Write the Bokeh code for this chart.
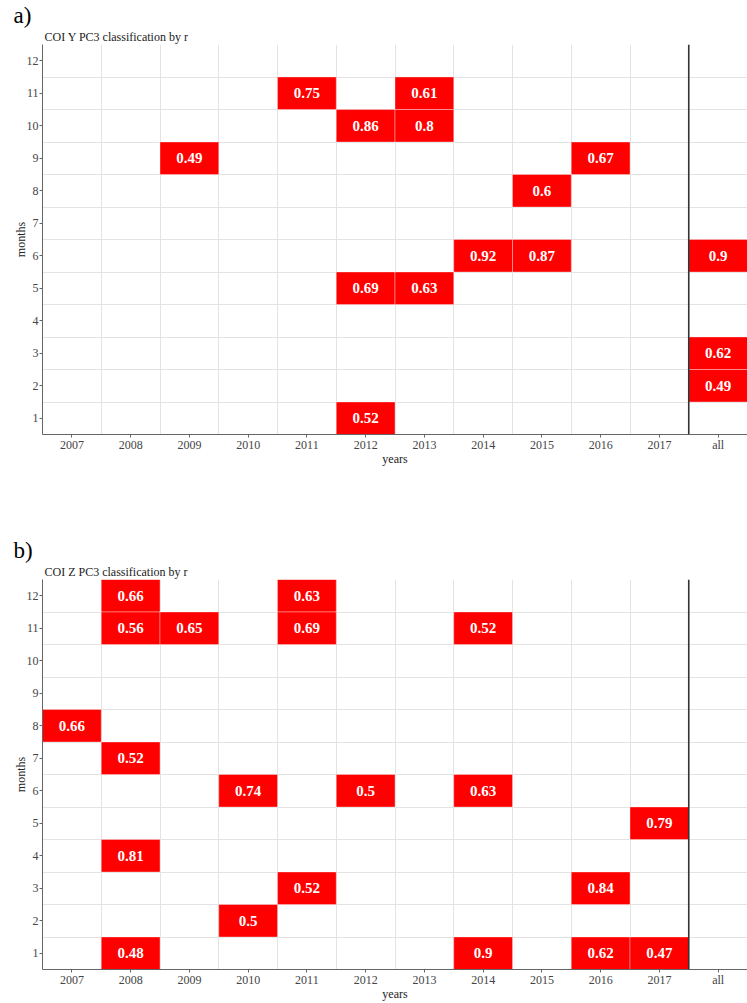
from bokeh.plotting import figure
from bokeh.models import FixedTicker, Title, Span, ColumnDataSource, Range1d
from bokeh.layouts import column
from bokeh.embed import file_html
from bokeh.resources import INLINE
from bokeh.core.properties import value

years = ["2007", "2008", "2009", "2010", "2011", "2012", "2013", "2014", "2015", "2016", "2017", "all"]
months = list(range(1, 13))

# panel a: COI Y PC3
a_year = ["2011", "2013", "2012", "2013", "2009", "2016", "2015", "2014", "2015", "all",
          "2012", "2013", "all", "all", "2012"]
a_month = [11, 11, 10, 10, 9, 9, 8, 6, 6, 6, 5, 5, 3, 2, 1]
a_r = [0.75, 0.61, 0.86, 0.8, 0.49, 0.67, 0.6, 0.92, 0.87, 0.9, 0.69, 0.63, 0.62, 0.49, 0.52]

# panel b: COI Z PC3
b_year = ["2008", "2011", "2008", "2009", "2011", "2014", "2007", "2008", "2010", "2012",
          "2014", "2017", "2008", "2011", "2016", "2010", "2008", "2014", "2016", "2017"]
b_month = [12, 12, 11, 11, 11, 11, 8, 7, 6, 6, 6, 5, 4, 3, 3, 2, 1, 1, 1, 1]
b_r = [0.66, 0.63, 0.56, 0.65, 0.69, 0.52, 0.66, 0.52, 0.74, 0.5, 0.63, 0.79, 0.81, 0.52,
       0.84, 0.5, 0.48, 0.9, 0.62, 0.47]

SERIF = "Liberation Serif"


def panel(tag, subtitle, yrs, mons, vals, fh, bottom):
    p = figure(frame_width=705, frame_height=fh, output_backend="svg", toolbar_location=None,
               x_range=Range1d(-0.5, 11.5), y_range=Range1d(0.5, 12.5),
               min_border_left=42, min_border_right=0, min_border_top=0,
               min_border_bottom=bottom)
    p.title = Title(text=tag, text_font=SERIF, text_font_size="23px",
                    text_font_style="normal", text_color="#000000", align="left",
                    offset=-29, standoff=0)
    p.add_layout(Title(text=subtitle, text_font=SERIF, text_font_size="12px",
                       text_font_style="normal", text_color="#222222", align="left",
                       standoff=1, offset=2), "above")
    p.outline_line_color = None
    p.background_fill_color = "white"

    xs = [years.index(y) for y in yrs]
    src = ColumnDataSource(dict(x=xs, y=mons, t=[str(v) for v in vals]))
    p.rect(x="x", y="y", width=1, height=1, source=src, fill_color="#FF0000",
           line_color="white", line_alpha=0.35, line_width=1)
    p.text(x="x", y="y", text="t", source=src, text_align="center",
           text_baseline="middle", text_color="white", text_font=value(SERIF),
           text_font_style="bold", text_font_size="15px")

    p.add_layout(Span(location=10.5, dimension="height", line_color="#333333",
                      line_width=1.6))

    p.xaxis.ticker = FixedTicker(ticks=list(range(len(years))))
    p.xaxis.major_label_overrides = {i: y for i, y in enumerate(years)}
    p.yaxis.ticker = FixedTicker(ticks=months)
    p.xgrid.ticker = FixedTicker(ticks=[i + 0.5 for i in range(-1, 12)])
    p.ygrid.ticker = FixedTicker(ticks=[m + 0.5 for m in range(0, 13)])
    p.grid.grid_line_color = "#E3E3E3"
    p.grid.grid_line_width = 1
    p.grid.level = "underlay"

    for ax in (p.xaxis, p.yaxis):
        ax.axis_line_color = "#666666"
        ax.major_tick_line_color = "#666666"
        ax.major_tick_out = 3
        ax.major_tick_in = 0
        ax.minor_tick_line_color = None
        ax.major_label_text_font = SERIF
        ax.major_label_text_font_size = "12px"
        ax.major_label_text_color = "#444444"
        ax.axis_label_text_font = SERIF
        ax.axis_label_text_font_size = "12px"
        ax.axis_label_text_font_style = "normal"
        ax.axis_label_text_color = "#222222"
    p.xaxis.axis_label = "years"
    p.yaxis.axis_label = "months"
    p.xaxis.major_label_standoff = 0
    p.xaxis.axis_label_standoff = -3
    p.yaxis.major_label_standoff = 1
    p.yaxis.axis_label_standoff = -4
    return p


pa = panel("a)", "COI Y PC3 classification by r", a_year, a_month, a_r, 390, 101)
pb = panel("b)", "COI Z PC3 classification by r", b_year, b_month, b_r, 390, 32)

layout = column(pa, pb, spacing=0)
open("out.html", "w").write(file_html(layout, INLINE))
